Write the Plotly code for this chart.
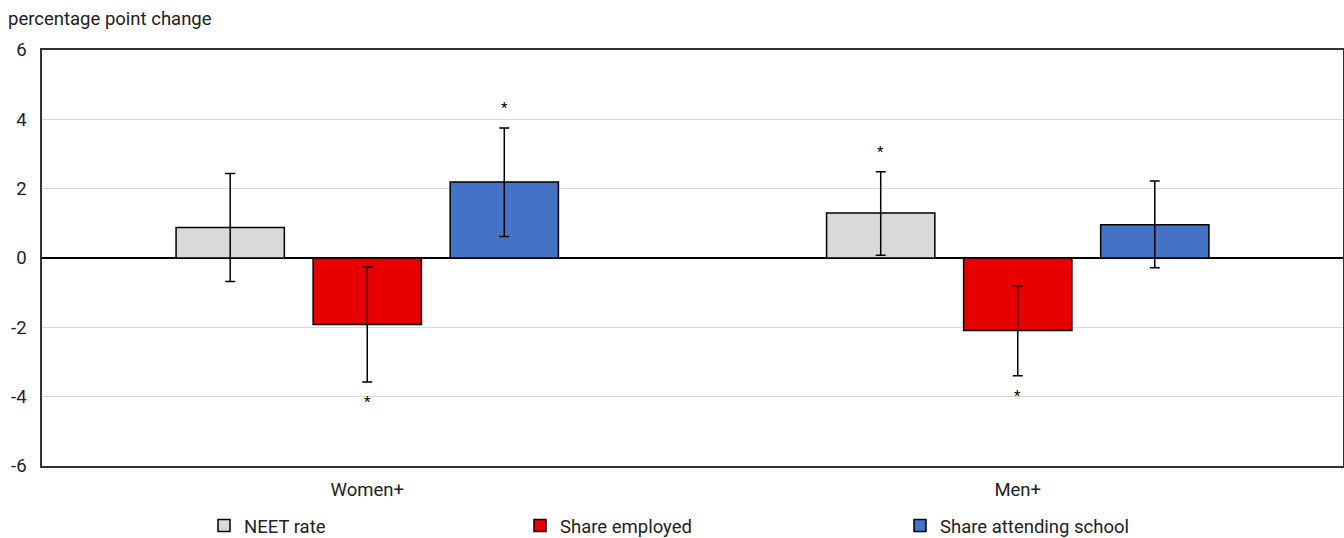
import plotly.graph_objects as go

categories = ["Women+", "Men+"]
series_names = ["NEET rate", "Share employed", "Share attending school"]
neet = [0.88, 1.30]
employed = [-1.92, -2.09]
school = [2.19, 0.96]
neet_err_hi = [2.44, 2.49]
neet_err_lo = [-0.68, 0.08]
employed_err_hi = [-0.26, -0.80]
employed_err_lo = [-3.58, -3.40]
school_err_hi = [3.75, 2.22]
school_err_lo = [0.62, -0.28]
neet_sig = [False, True]
employed_sig = [True, True]
school_sig = [True, False]
y_ticks = [-6, -4, -2, 0, 2, 4, 6]
y_ticktext = ["-6", "-4", "-2", "0", "2", "4", "6"]

FONT = "Roboto, sans-serif"
FS = 18.5
TXT = "#222222"
colors = ["#d9d9d9", "#e60000", "#4472c4"]

values = [neet, employed, school]
hi = [neet_err_hi, employed_err_hi, school_err_hi]
lo = [neet_err_lo, employed_err_lo, school_err_lo]
sig = [neet_sig, employed_sig, school_sig]
legends = ["legend", "legend2", "legend3"]

fig = go.Figure()
for i, name in enumerate(series_names):
    v = values[i]
    fig.add_trace(go.Bar(
        x=categories, y=v, name=name, showlegend=True,
        marker=dict(color=colors[i], line=dict(color="#000000", width=1.5)),
        error_y=dict(type="data", symmetric=False,
                     array=[h - val for h, val in zip(hi[i], v)],
                     arrayminus=[val - l for l, val in zip(lo[i], v)],
                     color="#000000", thickness=1.5, width=5),
        legend=legends[i],
    ))

# significance asterisks, placed at the end of the error bar away from zero
annotations = []
for i in range(3):
    for j, cat in enumerate(categories):
        if sig[i][j]:
            if values[i][j] >= 0:
                y, ysh = hi[i][j], 20
            else:
                y, ysh = lo[i][j], -20
            annotations.append(dict(
                x=cat, y=y, xref="x", yref="y", text="*", showarrow=False,
                xshift=(i - 1) * 137, yshift=ysh,
                font=dict(family=FONT, size=15, color="#000000")))

annotations.append(dict(
    x=0, y=1, xref="paper", yref="paper", xanchor="left", yanchor="bottom",
    xshift=-36, yshift=18, text="percentage point change", showarrow=False,
    font=dict(family=FONT, size=FS, color=TXT)))


def leg(px):
    return dict(orientation="h", xref="container", yref="container",
                x=px / 1344, y=1 - 526 / 538, xanchor="left", yanchor="middle",
                itemwidth=30, font=dict(family=FONT, size=FS, color=TXT),
                bgcolor="rgba(0,0,0,0)")


fig.update_layout(
    width=1344, height=538,
    margin=dict(l=42, r=1, t=50, b=72, autoexpand=False),
    paper_bgcolor="white", plot_bgcolor="white",
    barmode="group", bargap=0.368, bargroupgap=0.21,
    showlegend=True,
    font=dict(family=FONT, size=FS, color=TXT),
    annotations=annotations,
    legend=leg(204), legend2=leg(520), legend3=leg(900),
)
fig.update_xaxes(showline=True, linecolor="#333333", linewidth=1.5, mirror=True,
                 showgrid=False, ticks="outside", ticklen=0, ticklabelstandoff=6,
                 automargin=False,
                 tickfont=dict(family=FONT, size=FS, color=TXT))
fig.update_yaxes(range=[-6, 6], tickvals=y_ticks, ticktext=y_ticktext,
                 showline=True, linecolor="#333333",
                 linewidth=1.5, mirror=True, showgrid=True, gridcolor="#d9d9d9",
                 gridwidth=1, zeroline=True, zerolinecolor="#000000", zerolinewidth=1.5,
                 ticks="outside", ticklen=0, ticklabelstandoff=10, automargin=False,
                 tickfont=dict(family=FONT, size=FS, color=TXT))

fig.write_html("out.html", config={"displayModeBar": False},
               post_script="document.body.style.margin='0';document.body.style.overflow='hidden';")
